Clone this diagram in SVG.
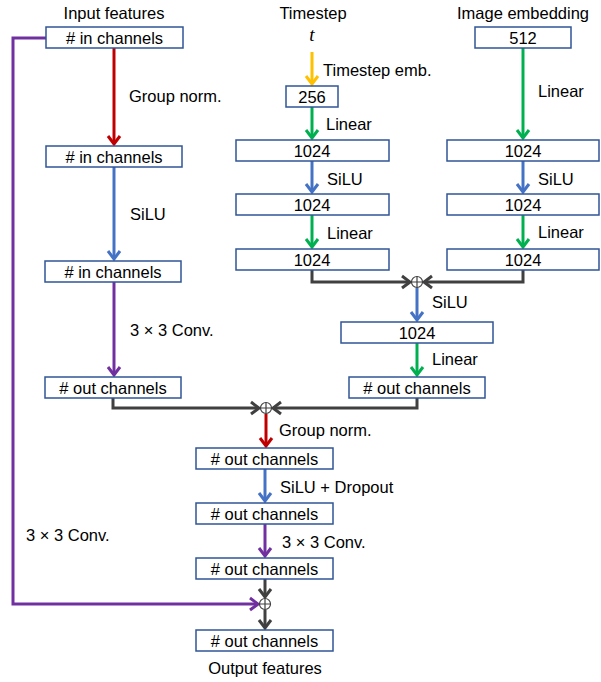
<svg xmlns="http://www.w3.org/2000/svg" width="601" height="682" viewBox="0 0 601 682">
<defs>
<style>
.box{fill:#fff;stroke:#2F5597;stroke-width:1.5}
.t{font-family:"Liberation Sans",Arial,sans-serif;font-size:16.5px;fill:#000}
.c{text-anchor:middle}
.ln{fill:none;stroke-width:3}
.red{stroke:#C00000}.blue{stroke:#4472C4}.pur{stroke:#7030A0}.grn{stroke:#00B050}.yel{stroke:#FFC000}.dk{stroke:#404040}
.op{fill:#fff;stroke:#404040;stroke-width:1.2}
</style>
<marker id="aR" viewBox="-10 -8 12 16" markerWidth="12" markerHeight="16" refX="0" refY="0" orient="auto" markerUnits="userSpaceOnUse"><path d="M-8,-6 L0,0 L-8,6" fill="none" stroke="#C00000" stroke-width="3"/></marker>
<marker id="aB" viewBox="-10 -8 12 16" markerWidth="12" markerHeight="16" refX="0" refY="0" orient="auto" markerUnits="userSpaceOnUse"><path d="M-8,-6 L0,0 L-8,6" fill="none" stroke="#4472C4" stroke-width="3"/></marker>
<marker id="aP" viewBox="-10 -8 12 16" markerWidth="12" markerHeight="16" refX="0" refY="0" orient="auto" markerUnits="userSpaceOnUse"><path d="M-8,-6 L0,0 L-8,6" fill="none" stroke="#7030A0" stroke-width="3"/></marker>
<marker id="aG" viewBox="-10 -8 12 16" markerWidth="12" markerHeight="16" refX="0" refY="0" orient="auto" markerUnits="userSpaceOnUse"><path d="M-8,-6 L0,0 L-8,6" fill="none" stroke="#00B050" stroke-width="3"/></marker>
<marker id="aY" viewBox="-10 -8 12 16" markerWidth="12" markerHeight="16" refX="0" refY="0" orient="auto" markerUnits="userSpaceOnUse"><path d="M-8,-6 L0,0 L-8,6" fill="none" stroke="#FFC000" stroke-width="3"/></marker>
<marker id="aD" viewBox="-10 -8 12 16" markerWidth="12" markerHeight="16" refX="0" refY="0" orient="auto" markerUnits="userSpaceOnUse"><path d="M-8,-6 L0,0 L-8,6" fill="none" stroke="#404040" stroke-width="3"/></marker>
</defs>
<rect width="601" height="682" fill="#fff"/>

<g id="connectors">
<path class="ln red" d="M114,48 V144" marker-end="url(#aR)"/>
<path class="ln blue" d="M114,167 V259" marker-end="url(#aB)"/>
<path class="ln pur" d="M114,282 V375" marker-end="url(#aP)"/>
<path class="ln dk" d="M113,398 V408 H259" marker-end="url(#aD)"/>
<path class="ln dk" d="M417,398 V408 H273" marker-end="url(#aD)"/>
<path class="ln red" d="M266,414 V446" marker-end="url(#aR)"/>
<path class="ln blue" d="M265,469 V501" marker-end="url(#aB)"/>
<path class="ln pur" d="M265,524 V556" marker-end="url(#aP)"/>
<path class="ln dk" d="M265,578 V597" marker-end="url(#aD)"/>
<path class="ln dk" d="M265,610 V628" marker-end="url(#aD)"/>
<path class="ln pur" d="M46,38 H13 V604 H258" marker-end="url(#aP)"/>
<path class="ln yel" d="M312,52 V84" marker-end="url(#aY)"/>
<path class="ln grn" d="M312,107 V138" marker-end="url(#aG)"/>
<path class="ln blue" d="M312,161 V192" marker-end="url(#aB)"/>
<path class="ln grn" d="M312,215 V247" marker-end="url(#aG)"/>
<path class="ln dk" d="M312,270 V282 H410" marker-end="url(#aD)"/>
<path class="ln grn" d="M523,48 V138" marker-end="url(#aG)"/>
<path class="ln blue" d="M523,161 V192" marker-end="url(#aB)"/>
<path class="ln grn" d="M523,215 V247" marker-end="url(#aG)"/>
<path class="ln dk" d="M523,270 V282 H424" marker-end="url(#aD)"/>
<path class="ln blue" d="M417,288 V320" marker-end="url(#aB)"/>
<path class="ln grn" d="M417,343 V375" marker-end="url(#aG)"/>
</g>

<g id="sum1"><circle class="op" cx="266" cy="408" r="5.5"/><path d="M260.5,408 H271.5 M266,402.5 V413.5" stroke="#404040" stroke-width="1.2"/></g>
<g id="sum2"><circle class="op" cx="417" cy="282" r="5.5"/><path d="M411.5,282 H422.5 M417,276.5 V287.5" stroke="#404040" stroke-width="1.2"/></g>
<g id="sum3"><circle class="op" cx="265" cy="604" r="5.5"/><path d="M259.5,604 H270.5 M265,598.5 V609.5" stroke="#404040" stroke-width="1.2"/></g>

<g id="labels">
<text class="t c" x="114" y="19">Input features</text>
<text class="t c" x="313" y="19">Timestep</text>
<text class="c" x="312" y="41" font-family="Liberation Serif,serif" font-style="italic" font-size="19">t</text>
<text class="t c" x="523" y="19">Image embedding</text>
<text class="t" x="129" y="102">Group norm.</text>
<text class="t" x="130" y="220">SiLU</text>
<text class="t" x="130" y="336">3 × 3 Conv.</text>
<text class="t" x="323" y="76">Timestep emb.</text>
<text class="t" x="326" y="130">Linear</text>
<text class="t" x="327" y="185">SiLU</text>
<text class="t" x="327" y="239">Linear</text>
<text class="t" x="538" y="97">Linear</text>
<text class="t" x="538" y="185">SiLU</text>
<text class="t" x="538" y="238">Linear</text>
<text class="t" x="432" y="308">SiLU</text>
<text class="t" x="432" y="365">Linear</text>
<text class="t" x="279" y="436">Group norm.</text>
<text class="t" x="280" y="493">SiLU + Dropout</text>
<text class="t" x="282" y="548">3 × 3 Conv.</text>
<text class="t" x="26" y="541">3 × 3 Conv.</text>
<text class="t c" x="265" y="674">Output features</text>
</g>

<g id="in1"><rect class="box" x="46" y="27" width="137" height="21"/><text class="t c" x="114.5" y="43.5">#&#160;in channels</text></g>
<g id="in2"><rect class="box" x="46" y="146" width="136" height="21"/><text class="t c" x="114" y="162.5">#&#160;in channels</text></g>
<g id="in3"><rect class="box" x="45" y="261" width="136" height="21"/><text class="t c" x="113" y="277.5">#&#160;in channels</text></g>
<g id="out4"><rect class="box" x="45" y="377" width="136" height="21"/><text class="t c" x="113" y="393.5">#&#160;out channels</text></g>
<g id="t256"><rect class="box" x="286" y="86" width="52" height="21"/><text class="t c" x="312" y="102.5">256</text></g>
<g id="t1024a"><rect class="box" x="236" y="140" width="153" height="21"/><text class="t c" x="312" y="156.5">1024</text></g>
<g id="t1024b"><rect class="box" x="236" y="194" width="153" height="21"/><text class="t c" x="312" y="210.5">1024</text></g>
<g id="t1024c"><rect class="box" x="236" y="249" width="153" height="21"/><text class="t c" x="312" y="265.5">1024</text></g>
<g id="img512"><rect class="box" x="475" y="27" width="96" height="21"/><text class="t c" x="523" y="43.5">512</text></g>
<g id="img1024a"><rect class="box" x="447" y="140" width="152" height="21"/><text class="t c" x="523" y="156.5">1024</text></g>
<g id="img1024b"><rect class="box" x="447" y="194" width="152" height="21"/><text class="t c" x="523" y="210.5">1024</text></g>
<g id="img1024c"><rect class="box" x="447" y="249" width="152" height="21"/><text class="t c" x="523" y="265.5">1024</text></g>
<g id="m1024"><rect class="box" x="341" y="322" width="152" height="21"/><text class="t c" x="417" y="338.5">1024</text></g>
<g id="mout"><rect class="box" x="349" y="377" width="136" height="21"/><text class="t c" x="417" y="393.5">#&#160;out channels</text></g>
<g id="o1"><rect class="box" x="196" y="448" width="137" height="21"/><text class="t c" x="264.5" y="464.5">#&#160;out channels</text></g>
<g id="o2"><rect class="box" x="196" y="503" width="137" height="21"/><text class="t c" x="264.5" y="519.5">#&#160;out channels</text></g>
<g id="o3"><rect class="box" x="196" y="558" width="137" height="21"/><text class="t c" x="264.5" y="574.5">#&#160;out channels</text></g>
<g id="o4"><rect class="box" x="196" y="630" width="137" height="21"/><text class="t c" x="264.5" y="646.5">#&#160;out channels</text></g>
</svg>
